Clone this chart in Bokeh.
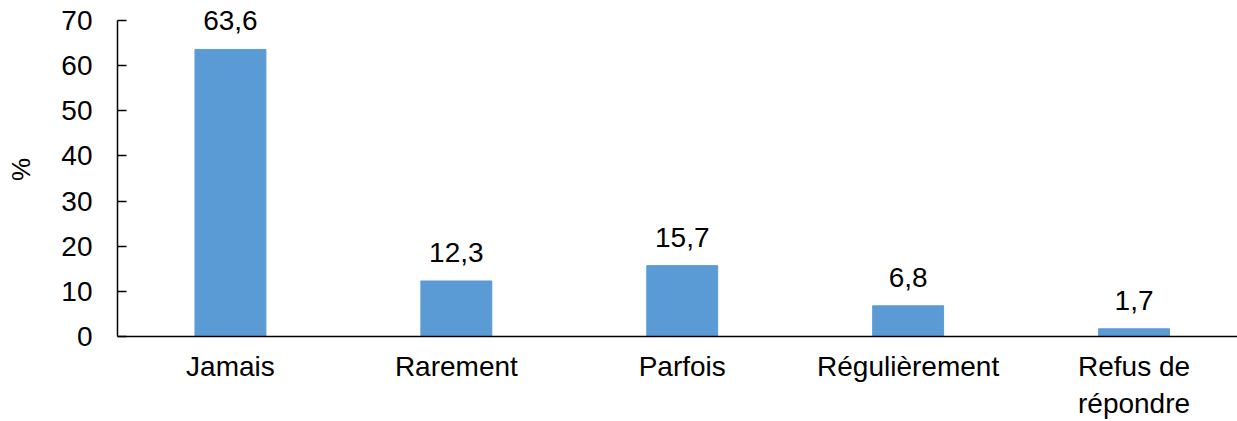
from bokeh.plotting import figure
from bokeh.models import ColumnDataSource, Range1d, FixedTicker
from bokeh.core.properties import value
from bokeh.embed import file_html
from bokeh.resources import INLINE

# Share of respondents by answer (%)
categories = ["Jamais", "Rarement", "Parfois", "Régulièrement", "Refus de\nrépondre"]
values = [63.6, 12.3, 15.7, 6.8, 1.7]
y_ticks = [0, 10, 20, 30, 40, 50, 60, 70]

FONT = "Liberation Sans"
FONT_SIZE = "28px"
BAR_COLOR = "#5B9BD5"

positions = list(range(len(categories)))
labels = [f"{v:.1f}".replace(".", ",") for v in values]

source = ColumnDataSource(data=dict(x=positions, top=values, label=labels))

# y range reaches a little past 70 so the top value label has room;
# the axis line itself stops at 70 via its bounds
p = figure(
    width=1237,
    height=421,
    x_range=Range1d(-0.5, 4.458),
    y_range=Range1d(0, 74),
    output_backend="svg",
    toolbar_location=None,
    min_border_left=117,
    min_border_right=0,
    min_border_top=2,
    min_border_bottom=82,
)
p.outline_line_color = None
p.background_fill_color = "white"
p.border_fill_color = "white"
p.xgrid.visible = False
p.ygrid.visible = False

p.vbar(x="x", top="top", bottom=0, width=0.314, color=BAR_COLOR, source=source)

p.text(
    x="x", y="top", text="label", source=source,
    text_align="center", text_baseline="bottom", y_offset=-19,
    text_font=value(FONT), text_font_size=FONT_SIZE, text_color="#000000",
)

# y axis
yax = p.yaxis[0]
yax.ticker = FixedTicker(ticks=y_ticks)
yax.bounds = (0, 70)
yax.axis_label = "%"
yax.axis_label_text_font = FONT
yax.axis_label_text_font_size = "26px"
yax.axis_label_text_font_style = "normal"
yax.axis_label_text_color = "#000000"
yax.axis_label_standoff = 22
yax.major_label_text_font = FONT
yax.major_label_text_font_size = FONT_SIZE
yax.major_label_text_color = "#000000"
yax.major_label_standoff = 25
yax.major_tick_in = 9
yax.major_tick_out = 0
yax.minor_tick_in = 0
yax.minor_tick_out = 0
yax.axis_line_color = "#000000"
yax.axis_line_width = 1.5
yax.major_tick_line_color = "#000000"
yax.major_tick_line_width = 1.5

# x axis
xax = p.xaxis[0]
xax.ticker = FixedTicker(ticks=positions)
xax.major_label_overrides = {i: c for i, c in zip(positions, categories)}
xax.major_label_text_font = FONT
xax.major_label_text_font_size = FONT_SIZE
xax.major_label_text_color = "#000000"
xax.major_label_standoff = 14
xax.major_tick_in = 0
xax.major_tick_out = 0
xax.minor_tick_in = 0
xax.minor_tick_out = 0
xax.axis_line_color = "#000000"
xax.axis_line_width = 1.5

open("out.html", "w").write(file_html(p, INLINE))
